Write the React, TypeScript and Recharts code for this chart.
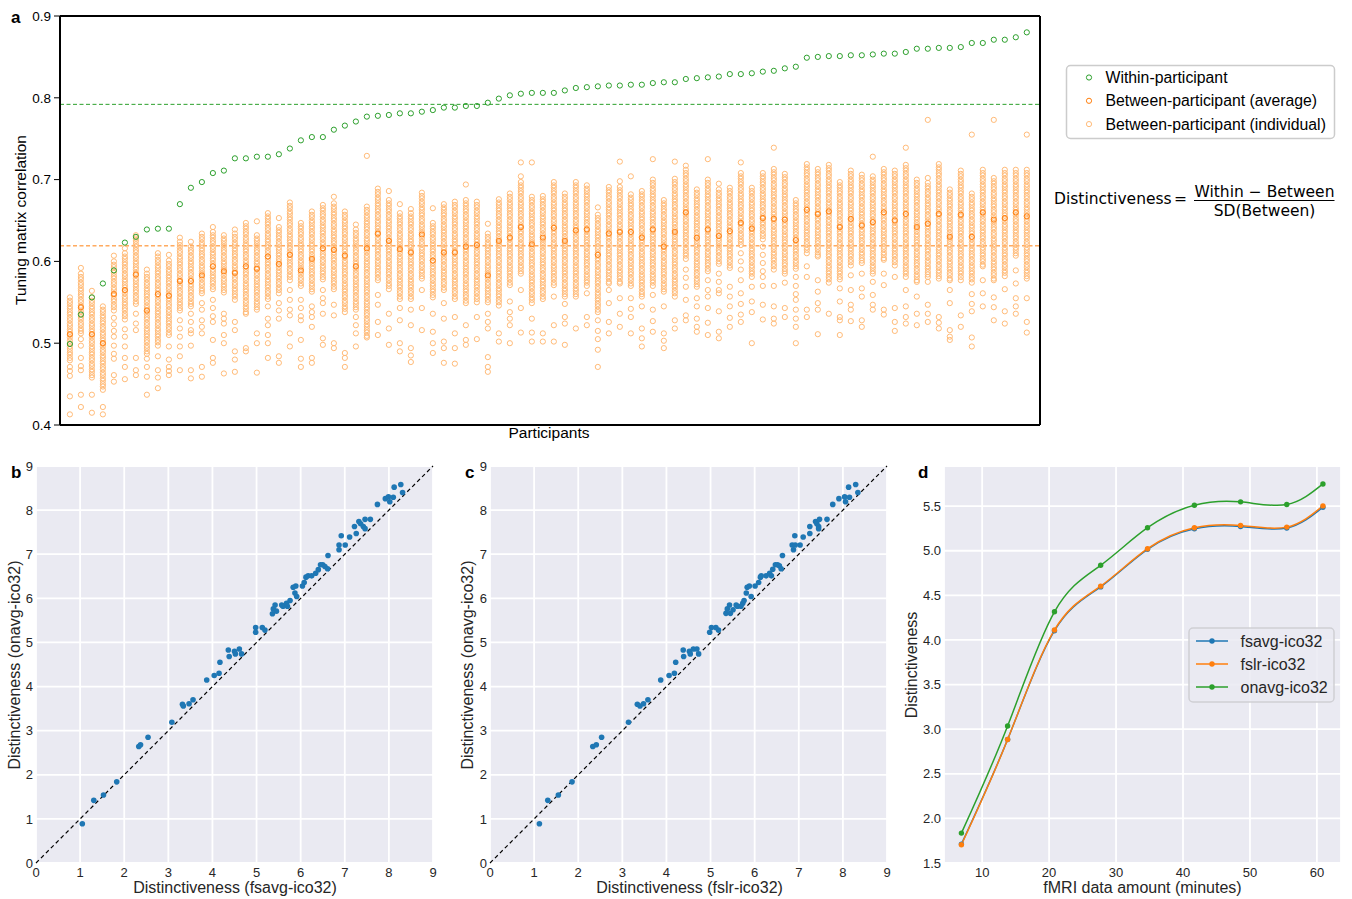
import React from "react";
import {
  CartesianGrid,
  Line,
  LineChart,
  ReferenceLine,
  Scatter,
  ScatterChart,
  XAxis,
  YAxis,
} from "recharts";

// ---- panel a: tuning matrix correlation per participant ----
const within = [
  0.499, 0.535, 0.556, 0.573, 0.589, 0.623, 0.63, 0.639, 0.64, 0.64,
  0.67, 0.69, 0.697, 0.708, 0.711, 0.726, 0.726, 0.728, 0.728, 0.731,
  0.738, 0.748, 0.752, 0.752, 0.761, 0.766, 0.771, 0.777, 0.778, 0.779,
  0.781, 0.781, 0.783, 0.785, 0.788, 0.788, 0.79, 0.79, 0.794, 0.799,
  0.803, 0.805, 0.806, 0.806, 0.806, 0.809, 0.812, 0.813, 0.814, 0.815,
  0.815, 0.816, 0.816, 0.818, 0.819, 0.819, 0.823, 0.824, 0.825, 0.826,
  0.829, 0.829, 0.83, 0.832, 0.833, 0.836, 0.838, 0.849, 0.85, 0.851,
  0.851, 0.852, 0.852, 0.853, 0.854, 0.854, 0.856, 0.86, 0.86, 0.861,
  0.861, 0.862, 0.867, 0.867, 0.871, 0.871, 0.874, 0.88,
];

const betweenAverage = [
  0.511, 0.544, 0.511, 0.5, 0.56, 0.565, 0.584, 0.54, 0.56, 0.558,
  0.576, 0.576, 0.583, 0.594, 0.588, 0.586, 0.594, 0.591, 0.606, 0.597,
  0.608, 0.589, 0.603, 0.616, 0.614, 0.607, 0.594, 0.616, 0.634, 0.625,
  0.615, 0.611, 0.633, 0.601, 0.611, 0.611, 0.618, 0.62, 0.583, 0.625,
  0.629, 0.642, 0.621, 0.629, 0.641, 0.625, 0.638, 0.639, 0.608, 0.634,
  0.636, 0.636, 0.629, 0.639, 0.618, 0.636, 0.66, 0.629, 0.639, 0.631,
  0.637, 0.647, 0.64, 0.653, 0.652, 0.651, 0.626, 0.663, 0.658, 0.661,
  0.642, 0.652, 0.644, 0.648, 0.66, 0.65, 0.658, 0.642, 0.646, 0.658,
  0.63, 0.657, 0.63, 0.66, 0.651, 0.653, 0.66, 0.655,
];

// between-participant correlations, one string per participant (thousandths)
const betweenIndividual = [
  "556 552 549 545 542 538 535 531 528 524 521 517 514 510 507 503 500 496 493 489 486 482 479 471 466 460 435 413",
  "592 585 581 578 574 571 567 564 560 557 553 550 546 543 539 536 532 529 525 522 518 515 512 505 497 482 472 467 437 422",
  "564 556 552 549 545 542 538 535 531 528 524 521 517 514 510 507 503 500 496 493 489 486 482 479 475 472 468 465 461 458 437 415",
  "545 541 538 534 531 527 524 520 517 513 510 506 503 499 496 492 489 485 482 478 475 471 468 464 461 457 454 450 447 443 422 413",
  "607 600 596 593 589 586 582 579 575 572 568 565 561 558 554 551 547 544 540 531 523 515 508 497 487 481 461 453",
  "616 610 606 603 599 596 592 589 585 582 578 575 571 568 564 561 557 554 550 547 543 540 536 533 529 517 508 496 482 471 456",
  "632 628 625 621 618 614 611 607 604 600 597 593 590 586 583 579 576 572 569 565 562 558 555 551 548 536 524 516 482 467 461",
  "590 585 581 578 574 571 567 564 560 557 553 550 546 543 539 536 532 529 525 522 518 515 511 508 504 501 497 494 490 487 481 471 459 437",
  "610 606 602 599 595 592 588 585 581 578 574 571 567 564 560 557 553 550 546 543 539 536 532 529 525 522 518 515 511 508 504 501 497 484 467 458 445",
  "608 601 597 594 590 587 583 580 576 573 569 566 562 559 555 552 548 545 541 538 534 531 527 524 520 517 513 510 496 480 471 466 461",
  "629 624 620 617 613 610 606 603 599 596 592 589 585 582 578 575 571 568 564 561 557 554 550 547 543 540 528 518 508 496 484 467",
  "624 618 614 611 607 604 600 597 593 590 586 583 579 576 572 569 565 562 558 555 551 548 545 536 526 516 512 497 467 457",
  "634 630 627 623 620 616 613 609 606 602 599 595 592 588 585 581 578 574 571 567 564 561 549 541 528 520 512 471 459",
  "642 636 632 629 625 622 618 615 611 608 604 601 597 594 590 587 583 580 576 573 569 566 553 543 533 526 504 482 476",
  "632 628 625 621 618 614 611 607 604 600 597 593 590 586 583 579 576 572 569 565 562 536 530 524 510 500 463",
  "639 634 630 627 623 620 616 613 609 606 602 599 595 592 588 585 581 578 574 571 567 564 560 557 553 526 516 490 480 465",
  "647 643 640 636 633 629 626 622 619 615 612 608 605 601 598 594 591 587 584 580 577 573 570 566 563 559 556 552 549 545 542 538 536 494 490",
  "649 632 628 625 621 618 614 611 607 604 600 597 593 590 586 583 579 576 572 569 565 562 558 555 551 548 544 541 512 500 464",
  "659 655 652 648 645 641 638 634 631 627 624 620 617 613 610 606 603 599 596 592 589 585 582 578 575 571 568 564 561 557 554 545 530 522 510 500 482",
  "653 642 638 635 631 628 624 621 617 614 610 607 603 600 596 593 589 586 582 579 575 572 568 565 561 549 540 530 484 476",
  "672 668 665 661 658 654 651 647 644 640 637 633 630 626 623 619 616 612 609 605 602 598 595 591 588 584 581 577 565 553 541 534 512 496",
  "647 643 640 636 633 629 626 622 619 615 612 608 605 601 598 594 591 587 584 580 577 573 570 553 543 533 528 504 481 471",
  "661 657 654 650 647 643 640 636 633 629 626 622 619 615 612 608 605 601 598 594 591 587 584 580 577 573 570 566 563 545 538 532 520 482 476",
  "669 665 662 658 655 651 648 644 641 637 634 630 627 623 620 616 613 609 606 602 599 595 592 588 585 581 578 565 555 549 536 506 498",
  "679 671 667 664 660 657 653 650 646 643 639 636 632 629 625 622 618 615 611 608 604 601 597 594 590 587 583 580 576 573 569 566 547 534 500 494",
  "661 657 654 650 647 643 640 636 633 629 626 622 619 615 612 608 605 601 598 594 591 587 584 580 577 573 570 566 563 559 556 552 549 545 542 538 488 482 471",
  "645 639 635 632 628 625 621 618 614 611 607 604 600 597 593 590 586 583 579 576 572 569 565 562 558 555 551 548 544 541 532 522 512 496",
  "729 667 663 660 656 653 649 646 642 639 635 632 628 625 621 618 614 611 607 604 600 597 593 590 586 583 579 576 572 569 565 562 558 555 551 548 544 541 537 534 530 527 523 520 516 513 509 507",
  "689 685 682 678 675 671 668 664 661 657 654 650 647 643 640 636 633 629 626 622 619 615 612 608 605 601 598 594 591 587 584 580 577 559 547 526 510",
  "686 675 671 668 664 661 657 654 650 647 643 640 636 633 629 626 622 619 615 612 608 605 601 598 594 591 587 584 580 577 573 570 566 536 518 498",
  "670 659 655 652 648 645 641 638 634 631 627 624 620 617 613 610 606 603 599 596 592 589 585 582 578 575 571 568 564 561 557 554 543 528 500 490",
  "664 659 655 652 648 645 641 638 634 631 627 624 620 617 613 610 606 603 599 596 592 589 585 582 578 575 571 568 564 561 557 554 541 522 494 485 477",
  "684 680 677 673 670 666 663 659 656 652 649 645 642 638 635 631 628 624 621 617 614 610 607 603 600 596 593 589 586 582 579 565 543 516",
  "665 647 643 640 636 633 629 626 622 619 615 612 608 605 601 598 594 591 587 584 580 577 573 570 566 563 559 556 536 514 500 488",
  "670 666 663 659 656 652 649 645 642 638 635 631 628 624 621 617 614 610 607 603 600 596 593 589 586 582 579 575 572 568 565 549 530 502 494 476",
  "673 669 666 662 659 655 652 648 645 641 638 634 631 627 624 620 617 613 610 606 603 599 596 592 589 585 582 578 575 571 568 564 561 557 554 532 512 494 475",
  "694 675 671 668 664 661 657 654 650 647 643 640 636 633 629 626 622 619 615 612 608 605 601 598 594 591 587 584 580 577 573 570 566 563 559 556 552 549 522 504 498",
  "673 669 666 662 659 655 652 648 645 641 638 634 631 627 624 620 617 613 610 606 603 599 596 592 589 585 582 578 575 571 568 564 561 557 554 550 532 505",
  "646 634 630 627 623 620 616 613 609 606 602 599 595 592 588 585 581 578 574 571 567 564 560 557 553 550 536 526 518 483 471 465",
  "676 672 669 665 662 658 655 651 648 644 641 637 634 630 627 623 620 616 613 609 606 602 599 595 592 588 585 581 578 574 571 567 564 560 557 553 550 546 512 502",
  "683 679 676 672 669 665 662 658 655 651 648 644 641 637 634 630 627 623 620 616 613 609 606 602 599 595 592 588 585 581 578 574 571 551 538 530 522 500",
  "721 704 697 693 690 686 683 679 676 672 669 665 662 658 655 651 648 644 641 637 634 630 627 623 620 616 613 609 606 602 599 595 592 588 585 565 543 513",
  "721 679 675 672 668 665 661 658 654 651 647 644 640 637 633 630 626 623 619 616 612 609 605 602 598 595 591 588 584 581 577 574 570 567 563 560 556 553 549 530 513 502",
  "680 676 673 669 666 662 659 655 652 648 645 641 638 634 631 627 624 620 617 613 610 606 603 599 596 592 589 585 582 578 575 571 568 564 561 557 554 512 502",
  "697 693 690 686 683 679 676 672 669 665 662 658 655 651 648 644 641 637 634 630 627 623 620 616 613 609 606 602 599 595 592 588 585 581 578 574 571 557 522 502",
  "683 679 676 672 669 665 662 658 655 651 648 644 641 637 634 630 627 623 620 616 613 609 606 602 599 595 592 588 585 581 578 574 571 567 564 560 557 548 532 524 498",
  "697 693 690 686 683 679 676 672 669 665 662 658 655 651 648 644 641 637 634 630 627 623 620 616 613 609 606 602 599 595 592 588 585 581 578 574 571 567 564 560 557 518",
  "693 689 686 682 679 675 672 668 665 661 658 654 651 647 644 640 637 633 630 626 623 619 616 612 609 605 602 598 595 591 588 584 581 577 574 570 561 532 522",
  "666 657 653 650 646 643 639 636 632 629 625 622 618 615 611 608 604 601 597 594 590 587 583 580 576 573 569 566 562 559 555 552 548 545 541 538 528 515 505 492 471",
  "691 687 684 680 677 673 670 666 663 659 656 652 649 645 642 638 635 631 628 624 621 617 614 610 607 603 600 596 593 589 586 582 579 575 573 565 549 526 512",
  "722 698 691 687 684 680 677 673 670 666 663 659 656 652 649 645 642 638 635 631 628 624 621 617 614 610 607 603 600 596 593 589 586 582 579 575 573 555 536 520",
  "704 682 678 675 671 668 664 661 657 654 650 647 643 640 636 633 629 626 622 619 615 612 608 605 601 598 594 591 587 584 580 577 573 570 555 542 532 512",
  "686 682 679 675 672 668 665 661 658 654 651 647 644 640 637 633 630 626 623 619 616 612 609 605 602 598 595 591 588 584 581 577 574 570 567 563 560 557 545 518 506 496",
  "725 700 696 693 689 686 682 679 675 672 668 665 661 658 654 651 647 644 640 637 633 630 626 623 619 616 612 609 605 602 598 595 591 588 584 581 577 574 570 559 541 527 514",
  "675 671 668 664 661 657 654 650 647 643 640 636 633 629 626 622 619 615 612 608 605 601 598 594 591 587 584 580 577 573 570 566 563 545 512 503 494",
  "722 701 697 694 690 687 683 680 676 673 669 666 662 659 655 652 648 645 641 638 634 631 627 624 620 617 613 610 606 603 599 596 592 589 585 582 578 575 571 568 564 561 557 528 518",
  "717 712 708 705 701 698 694 691 687 684 680 677 673 670 666 663 659 656 652 649 645 642 638 635 631 628 624 621 617 614 610 607 603 590 580 569 553 534 528",
  "688 684 681 677 674 670 667 663 660 656 653 649 646 642 639 635 632 628 625 621 618 614 611 607 604 600 597 593 590 586 583 579 576 572 569 555 545 530 520 514",
  "725 700 696 693 689 686 682 679 675 672 668 665 661 658 654 651 647 644 640 637 633 630 626 623 619 616 612 609 605 602 598 595 591 588 577 565 557 543 525 510",
  "695 688 684 681 677 674 670 667 663 660 656 653 649 646 642 639 635 632 628 625 621 618 614 611 607 604 600 597 585 575 565 561 539 514 506",
  "690 686 683 679 676 672 669 665 662 658 655 651 648 644 641 637 634 630 627 623 620 616 613 609 606 602 599 595 592 569 557 545 531 520",
  "721 708 704 701 697 694 690 687 683 680 676 673 669 666 662 659 655 652 648 645 641 638 634 631 627 624 620 610 600 590 577 561 548 535 526",
  "690 686 683 679 676 672 669 665 662 658 655 651 648 644 641 637 634 630 627 623 620 616 613 609 606 602 599 595 592 588 585 581 569 551 538 500",
  "708 704 701 697 694 690 687 683 680 676 673 669 666 662 659 655 652 648 645 641 638 634 631 627 618 608 598 588 581 570 547 529",
  "739 713 709 706 702 699 695 692 688 685 681 678 674 671 667 664 660 657 653 650 646 643 639 636 632 629 625 622 618 615 611 608 604 601 597 594 590 570 545 530 524",
  "707 703 700 696 693 689 686 682 679 675 672 668 665 661 658 654 651 647 644 640 637 633 630 626 623 619 616 612 609 605 602 598 595 591 588 585 574 543 532",
  "675 671 668 664 661 657 654 650 647 643 640 636 633 629 626 622 619 615 612 608 605 601 598 594 591 581 570 560 553 541 530 520 500",
  "719 715 712 708 705 701 698 694 691 687 684 680 677 673 670 666 663 659 656 652 649 645 642 638 635 631 628 624 621 617 614 610 594 581 541 532",
  "713 709 706 702 699 695 692 688 685 681 678 674 671 667 664 660 657 653 650 646 643 639 636 632 629 625 622 618 615 611 608 606 577 563 549 541 511",
  "718 714 711 707 704 700 697 693 690 686 683 679 676 672 669 665 662 658 655 651 648 644 641 637 634 630 627 623 620 616 613 609 606 602 599 595 592 588 585 581 578 574 536",
  "697 693 690 686 683 679 676 672 669 665 662 658 655 651 648 644 641 637 634 630 627 623 620 616 613 609 606 602 599 595 592 588 585 581 578 567 551 532 528 510",
  "711 707 704 700 697 693 690 686 683 679 676 672 669 665 662 658 655 651 648 644 641 637 634 630 627 623 620 616 613 609 606 602 599 595 583 565 547 541 527",
  "706 702 699 695 692 688 685 681 678 674 671 667 664 660 657 653 650 646 643 639 636 632 629 625 622 618 615 611 608 604 601 598 585 567 557 528 520",
  "728 704 700 697 693 690 686 683 679 676 672 669 665 662 658 655 651 648 644 641 637 634 630 627 623 620 616 613 609 606 602 599 595 592 588 585 575 559 547 541",
  "713 709 706 702 699 695 692 688 685 681 678 674 671 667 664 660 657 653 650 646 643 639 636 632 629 625 622 618 615 611 608 604 602 585 571 541 535",
  "711 707 704 700 697 693 690 686 683 679 676 672 669 665 662 658 655 651 648 644 641 637 634 630 627 623 620 616 613 609 606 602 599 595 581 543 526 515",
  "739 718 714 711 707 704 700 697 693 690 686 683 679 676 672 669 665 662 658 655 651 648 644 641 637 634 630 627 623 620 616 613 609 606 602 599 595 592 588 585 581 565 545 532 524",
  "700 696 693 689 686 682 679 675 672 668 665 661 658 654 651 647 644 640 637 633 630 626 623 619 616 612 609 605 602 598 595 591 588 584 581 577 575 557 536 522",
  "773 702 696 692 689 685 682 678 675 671 668 664 661 657 654 650 647 643 640 636 633 629 626 622 619 615 612 608 605 601 598 594 591 587 584 581 575 547 536 526",
  "719 715 712 708 705 701 698 694 691 687 684 680 677 673 670 666 663 659 656 652 649 645 642 638 635 631 628 624 621 617 614 610 607 603 600 596 593 589 586 582 579 532 525 518",
  "688 684 681 677 674 670 667 663 660 656 653 649 646 642 639 635 632 628 625 621 618 614 611 607 604 600 597 593 590 586 583 579 577 565 549 516 508 504",
  "711 707 704 700 697 693 690 686 683 679 676 672 669 665 662 658 655 651 648 644 641 637 634 630 627 623 620 616 613 609 606 602 599 595 592 588 585 581 577 534 520",
  "755 683 679 676 672 669 665 662 658 655 651 648 644 641 637 634 630 627 623 620 616 613 609 606 602 599 595 592 588 585 581 578 574 560 548 539 507 496",
  "712 708 705 701 698 694 691 687 684 680 677 673 670 666 663 659 656 652 649 645 642 638 635 631 628 624 621 617 614 610 607 603 600 596 594 577 561 545",
  "773 702 698 695 691 688 684 681 677 674 670 667 663 660 656 653 649 646 642 639 635 632 628 625 621 618 614 611 607 604 600 597 593 590 586 583 579 577 556 544 528",
  "712 708 705 701 698 694 691 687 684 680 677 673 670 666 663 659 656 652 649 645 642 638 635 631 628 624 621 617 614 610 607 603 600 596 593 589 586 582 566 539 524",
  "712 708 705 701 698 694 691 687 684 680 677 673 670 666 663 659 656 652 649 645 642 638 635 631 628 624 621 617 614 610 607 589 573 555 545 536",
  "755 712 708 705 701 698 694 691 687 684 680 677 673 670 666 663 659 656 652 649 645 642 638 635 631 628 624 621 617 614 610 607 603 600 596 593 589 586 582 579 555 526 513",
];

const withinMean = 0.792;
const betweenMean = 0.619;
const corrTicks = [0.4, 0.5, 0.6, 0.7, 0.8, 0.9];

// ---- panels b and c: distinctiveness per participant ----
const fsavgB = [
  1.05, 1.31, 1.53, 1.83, 2.33, 2.37, 2.54, 3.08, 3.32, 3.34, 3.47, 3.56, 3.87, 4.04, 4.15, 4.17,
  4.36, 4.38, 4.5, 4.52, 4.61, 4.66, 4.98, 4.98, 5.13, 5.19, 5.36, 5.38, 5.42, 5.45, 5.57, 5.6,
  5.68, 5.7, 5.76, 5.83, 5.87, 5.89, 5.91, 6.04, 6.08, 6.12, 6.17, 6.25, 6.34, 6.4, 6.45, 6.5,
  6.55, 6.61, 6.62, 6.87, 6.87, 6.92, 7.01, 7.11, 7.22, 7.26, 7.32, 7.36, 7.42, 7.46, 7.46, 7.58,
  7.74, 7.92, 7.99, 8.02, 8.1, 8.12, 8.27, 8.31,
];
const onavgB = [
  0.89, 1.42, 1.54, 1.84, 2.64, 2.68, 2.85, 3.19, 3.6, 3.56, 3.61, 3.7, 4.15, 4.25, 4.3, 4.55,
  4.83, 4.68, 4.8, 4.74, 4.85, 4.74, 5.34, 5.23, 5.34, 5.28, 5.65, 5.76, 5.85, 5.71, 5.85, 5.82,
  5.89, 5.82, 5.95, 6.25, 6.12, 6.28, 6.04, 6.28, 6.36, 6.48, 6.51, 6.51, 6.57, 6.65, 6.76, 6.76,
  6.72, 6.67, 6.97, 7.1, 7.21, 7.42, 7.21, 7.39, 7.63, 7.47, 7.74, 7.69, 7.63, 7.79, 7.58, 7.79,
  8.13, 8.26, 8.3, 8.19, 8.29, 8.52, 8.58, 8.4,
];
const fslrC = [
  1.12, 1.31, 1.55, 1.86, 2.33, 2.41, 2.53, 3.14, 3.34, 3.4, 3.48, 3.58, 3.87, 4.06, 4.18, 4.21,
  4.38, 4.39, 4.52, 4.54, 4.61, 4.69, 4.73, 4.98, 5.02, 5.12, 5.18, 5.35, 5.38, 5.43, 5.45, 5.51,
  5.58, 5.61, 5.69, 5.73, 5.76, 5.81, 5.83, 5.88, 5.92, 6.01, 6.09, 6.13, 6.15, 6.26, 6.34, 6.38,
  6.41, 6.47, 6.52, 6.56, 6.6, 6.63, 6.85, 6.88, 6.91, 6.92, 7.03, 7.1, 7.25, 7.25, 7.38, 7.41,
  7.45, 7.47, 7.45, 7.64, 7.77, 7.91, 8.04, 8.06, 8.15, 8.13, 8.29, 8.34,
];
const onavgC = [
  0.89, 1.42, 1.54, 1.84, 2.64, 2.68, 2.85, 3.19, 3.6, 3.56, 3.61, 3.7, 4.15, 4.25, 4.3, 4.55,
  4.83, 4.68, 4.8, 4.74, 4.85, 4.85, 4.74, 5.23, 5.34, 5.34, 5.28, 5.66, 5.76, 5.85, 5.66, 5.74,
  5.85, 5.82, 5.82, 5.89, 5.95, 6.12, 6.25, 6.28, 6.04, 6.28, 6.36, 6.48, 6.51, 6.51, 6.57, 6.51,
  6.66, 6.76, 6.76, 6.74, 6.67, 6.97, 7.21, 7.1, 7.42, 7.21, 7.21, 7.39, 7.63, 7.47, 7.74, 7.69,
  7.63, 7.79, 7.58, 7.79, 8.13, 8.26, 8.3, 8.19, 8.29, 8.52, 8.58, 8.4,
];
const distTicks = [0, 1, 2, 3, 4, 5, 6, 7, 8, 9];

// ---- panel d: distinctiveness vs amount of data ----
const minutes = [6.9, 13.8, 20.8, 27.7, 34.7, 41.7, 48.6, 55.5, 60.9];
const fsavgCurve = [1.712, 2.884, 4.104, 4.595, 5.016, 5.246, 5.272, 5.254, 5.488];
const fslrCurve = [1.705, 2.884, 4.112, 4.603, 5.023, 5.258, 5.284, 5.265, 5.503];
const onavgCurve = [1.835, 3.036, 4.316, 4.837, 5.258, 5.51, 5.548, 5.518, 5.749];
const minuteTicks = [10, 20, 30, 40, 50, 60];
const dTicks = [1.5, 2, 2.5, 3, 3.5, 4, 4.5, 5, 5.5];

const GREEN = "#2ca02c";
const ORANGE = "#ff7f0e";
const LIGHT = "#ffbb78";
const BLUE = "#1f77b4";
const BG = "#eaeaf2";
const INK = "#262626";
const SANS = '"Liberation Sans", Arial, sans-serif';
const MATH = '"DejaVu Sans", sans-serif';

const withinPts = within.map((y, x) => ({ x, y }));
const averagePts = betweenAverage.map((y, x) => ({ x, y }));
const individualPts = betweenIndividual.flatMap((row, x) =>
  row.split(" ").map((s) => ({ x, y: Number(s) / 1000 }))
);

const ring = (color: string) => (props: any) =>
  <circle cx={props.cx} cy={props.cy} r={2.6} fill="none" stroke={color} strokeWidth={1} />;
const dot = (props: any) => <circle cx={props.cx} cy={props.cy} r={2.8} fill={BLUE} />;

function PanelA() {
  return (
    <ScatterChart width={1050} height={450} margin={{ top: 16, right: 10, bottom: 0, left: 0 }}>
      <XAxis
        type="number"
        dataKey="x"
        domain={[-0.9, 88.2]}
        tick={false}
        tickLine={false}
        height={25}
        axisLine={{ stroke: "#000", strokeWidth: 2 }}
      />
      <YAxis
        type="number"
        dataKey="y"
        domain={[0.4, 0.9]}
        ticks={corrTicks}
        width={60}
        tickSize={6}
        tickMargin={3}
        tickLine={{ stroke: "#000" }}
        axisLine={{ stroke: "#000", strokeWidth: 2 }}
        tick={{ fill: "#000", fontSize: 13.5, fontFamily: SANS }}
        tickFormatter={(v) => Number(v).toFixed(1)}
      />
      <ReferenceLine y={0.9} stroke="#000" strokeWidth={2} />
      <ReferenceLine x={88.2} stroke="#000" strokeWidth={2} />
      <Scatter data={individualPts} shape={ring(LIGHT)} isAnimationActive={false} />
      <Scatter data={averagePts} shape={ring(ORANGE)} isAnimationActive={false} />
      <Scatter data={withinPts} shape={ring(GREEN)} isAnimationActive={false} />
      <ReferenceLine y={withinMean} stroke={GREEN} strokeWidth={1} strokeDasharray="4 2.5" />
      <ReferenceLine y={betweenMean} stroke={ORANGE} strokeWidth={1} strokeDasharray="4 2.5" />
    </ScatterChart>
  );
}

function PanelScatter({ xs, ys, yAxisWidth, right }: { xs: number[]; ys: number[]; yAxisWidth: number; right: number }) {
  const pts = xs.map((x, i) => ({ x, y: ys[i] }));
  const tick = { fill: INK, fontSize: 13, fontFamily: SANS };
  return (
    <ScatterChart width={450} height={449} margin={{ top: 16, right, bottom: 0, left: 0 }}>
      <CartesianGrid fill={BG} stroke="#fff" strokeWidth={1.8} />
      <XAxis
        type="number"
        dataKey="x"
        domain={[0, 9]}
        ticks={distTicks}
        interval={0}
        height={36}
        axisLine={false}
        tickLine={false}
        tickSize={0}
        tickMargin={5}
        tick={tick}
      />
      <YAxis
        type="number"
        dataKey="y"
        domain={[0, 9]}
        ticks={distTicks}
        interval={0}
        width={yAxisWidth}
        axisLine={false}
        tickLine={false}
        tickSize={0}
        tickMargin={3}
        tick={tick}
      />
      <ReferenceLine
        segment={[{ x: 0, y: 0 }, { x: 9, y: 9 }]}
        stroke="#000"
        strokeWidth={1.2}
        strokeDasharray="4 3"
      />
      <Scatter data={pts} shape={dot} isAnimationActive={false} />
    </ScatterChart>
  );
}

function PanelD() {
  const rows = minutes.map((t, i) => ({
    t,
    fsavg: fsavgCurve[i],
    fslr: fslrCurve[i],
    onavg: onavgCurve[i],
  }));
  const tick = { fill: INK, fontSize: 13, fontFamily: SANS };
  const series = [
    { key: "fsavg", color: BLUE },
    { key: "fslr", color: ORANGE },
    { key: "onavg", color: GREEN },
  ];
  return (
    <LineChart width={462} height={449} data={rows} margin={{ top: 16, right: 11, bottom: 0, left: 0 }}>
      <CartesianGrid fill={BG} stroke="#fff" strokeWidth={1.8} />
      <XAxis
        type="number"
        dataKey="t"
        domain={[4.3, 63.6]}
        ticks={minuteTicks}
        interval={0}
        height={36}
        axisLine={false}
        tickLine={false}
        tickSize={0}
        tickMargin={5}
        tick={tick}
      />
      <YAxis
        type="number"
        domain={[1.5, 5.95]}
        ticks={dTicks}
        interval={0}
        width={54}
        axisLine={false}
        tickLine={false}
        tickSize={0}
        tickMargin={3}
        tick={tick}
        tickFormatter={(v) => Number(v).toFixed(1)}
      />
      {series.map((s) => (
        <Line
          key={s.key}
          type="natural"
          dataKey={s.key}
          stroke={s.color}
          strokeWidth={1.5}
          dot={{ r: 2.7, fill: s.color, stroke: s.color, strokeWidth: 0 }}
          isAnimationActive={false}
        />
      ))}
    </LineChart>
  );
}

function Overlay() {
  const label = { fontFamily: SANS, fontSize: 16, fill: INK };
  const letter = { fontFamily: SANS, fontSize: 17, fontWeight: 700, fill: "#000" };
  const legendA = [
    { text: "Within-participant", color: GREEN },
    { text: "Between-participant (average)", color: ORANGE },
    { text: "Between-participant (individual)", color: LIGHT },
  ];
  const legendD = [
    { text: "fsavg-ico32", color: BLUE },
    { text: "fslr-ico32", color: ORANGE },
    { text: "onavg-ico32", color: GREEN },
  ];
  return (
    <svg width={1352} height={899} style={{ position: "absolute", left: 0, top: 0, pointerEvents: "none" }}>
      <text x={11} y={23} style={letter}>a</text>
      <text x={11} y={478} style={letter}>b</text>
      <text x={465} y={478} style={letter}>c</text>
      <text x={918} y={478} style={letter}>d</text>

      <text x={549} y={438} textAnchor="middle" style={{ ...label, fontSize: 15.5, fill: "#000" }}>Participants</text>
      <text transform="translate(26,220) rotate(-90)" textAnchor="middle" style={{ ...label, fontSize: 15.5, fill: "#000" }}>
        Tuning matrix correlation
      </text>

      <rect x={1066.5} y={65.5} width={268} height={73} rx={4} fill="#fff" stroke="#cccccc" strokeWidth={1.5} />
      {legendA.map((e, i) => (
        <g key={e.text}>
          <circle cx={1089} cy={77.5 + i * 23.3} r={2.6} fill="none" stroke={e.color} strokeWidth={1} />
          <text x={1105.5} y={83 + i * 23.3} style={{ ...label, fontSize: 15.8, fill: "#000" }}>{e.text}</text>
        </g>
      ))}

      <g style={{ fontFamily: MATH, fontSize: 15.5, fill: "#000" }}>
        <text x={1054} y={203.5}>Distinctiveness</text>
        <text x={1174} y={203.5}>=</text>
        <text x={1264.5} y={196.5} textAnchor="middle">Within − Between</text>
        <line x1={1194} x2={1334.5} y1={200.5} y2={200.5} stroke="#000" strokeWidth={1.2} />
        <text x={1264.5} y={215.5} textAnchor="middle">SD(Between)</text>
      </g>

      <text x={235} y={893} textAnchor="middle" style={label}>Distinctiveness (fsavg-ico32)</text>
      <text transform="translate(19.5,665) rotate(-90)" textAnchor="middle" style={label}>Distinctiveness (onavg-ico32)</text>
      <text x={689.5} y={893} textAnchor="middle" style={label}>Distinctiveness (fslr-ico32)</text>
      <text transform="translate(473,665) rotate(-90)" textAnchor="middle" style={label}>Distinctiveness (onavg-ico32)</text>
      <text x={1142.5} y={893} textAnchor="middle" style={label}>fMRI data amount (minutes)</text>
      <text transform="translate(916.5,665) rotate(-90)" textAnchor="middle" style={label}>Distinctiveness</text>

      <rect x={1189} y={628} width={145} height={74} rx={4} fill={BG} fillOpacity={0.85} stroke="#cfcfd4" strokeWidth={1.5} />
      {legendD.map((e, i) => (
        <g key={e.text}>
          <line x1={1196} x2={1228} y1={641 + i * 23} y2={641 + i * 23} stroke={e.color} strokeWidth={1.5} />
          <circle cx={1212} cy={641 + i * 23} r={2.7} fill={e.color} />
          <text x={1240.5} y={647 + i * 23} style={label}>{e.text}</text>
        </g>
      ))}
    </svg>
  );
}

export default function App() {
  return (
    <div style={{ position: "absolute", left: 0, top: 0, width: 1352, height: 899, background: "#fff", fontFamily: SANS }}>
      <div style={{ position: "absolute", left: 0, top: 0 }}>
        <PanelA />
      </div>
      <div style={{ position: "absolute", left: 0, top: 450 }}>
        <PanelScatter xs={fsavgB} ys={onavgB} yAxisWidth={36} right={17} />
      </div>
      <div style={{ position: "absolute", left: 450, top: 450 }}>
        <PanelScatter xs={fslrC} ys={onavgC} yAxisWidth={40} right={13} />
      </div>
      <div style={{ position: "absolute", left: 890, top: 450 }}>
        <PanelD />
      </div>
      <Overlay />
    </div>
  );
}
